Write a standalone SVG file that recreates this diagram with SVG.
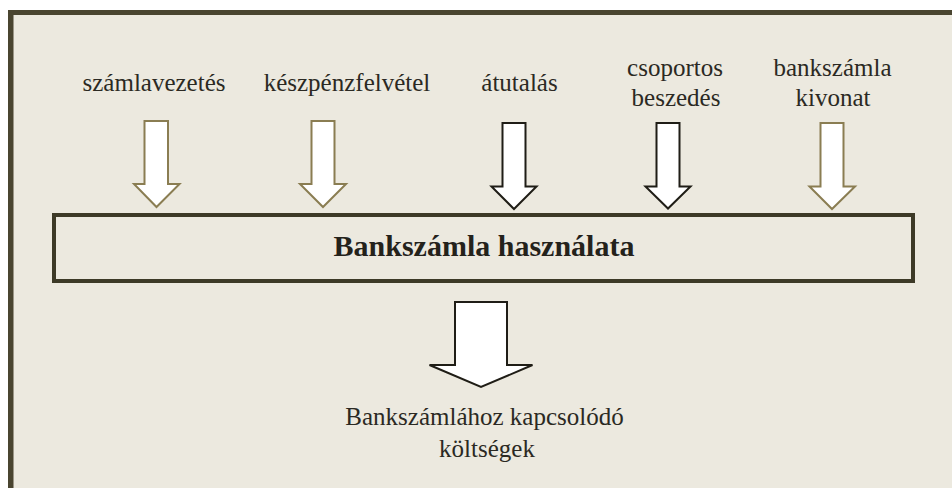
<svg xmlns="http://www.w3.org/2000/svg" width="952" height="488" viewBox="0 0 952 488">
<style>
.lbl{font-family:'Liberation Serif','Times New Roman',serif;font-size:25px;font-weight:normal;fill:#2b2923;text-anchor:middle}
.main{font-family:'Liberation Serif','Times New Roman',serif;font-size:30px;font-weight:bold;fill:#24221b;text-anchor:middle}
.olive{fill:#ffffff;stroke:#8a7d52;stroke-width:2;stroke-linejoin:miter}
.dark{fill:#ffffff;stroke:#1f1d16;stroke-width:2;stroke-linejoin:miter}
</style>
<rect x="0" y="0" width="952" height="488" fill="#ffffff"/>
<g id="frame">
<rect x="8" y="10" width="944" height="478" fill="#ece9df"/>
<rect x="8" y="10" width="944" height="5" fill="#4a4530"/>
<rect x="8" y="10" width="5.5" height="478" fill="#4a4530"/>
</g>
<g id="label-szamlavezetes"><text class="lbl" font-family="Liberation Serif, serif" x="154" y="91">számlavezetés</text></g>
<g id="label-keszpenzfelvetel"><text class="lbl" font-family="Liberation Serif, serif" x="347" y="91">készpénzfelvétel</text></g>
<g id="label-atutalas"><text class="lbl" font-family="Liberation Serif, serif" x="519.5" y="91">átutalás</text></g>
<g id="label-csoportos"><text class="lbl" font-family="Liberation Serif, serif" x="675" y="76">csoportos<tspan x="676" y="106">beszedés</tspan></text></g>
<g id="label-kivonat"><text class="lbl" font-family="Liberation Serif, serif" x="832.5" y="76">bankszámla<tspan x="833" y="106">kivonat</tspan></text></g>
<g id="node-main">
<rect x="54" y="215" width="859" height="66" fill="#ece9df" stroke="#3d3a27" stroke-width="4"/>
<text class="main" x="484" y="256">Bankszámla használata</text>
</g>
<g id="node-result"><text class="lbl" font-family="Liberation Serif, serif" x="484.5" y="425">Bankszámlához kapcsolódó<tspan x="487" y="457">költségek</tspan></text></g>
<g id="connectors">
<path class="olive" d="M144.5,121 H168 V184 H179.5 L156.5,207 L134,184 H144.5 Z"/>
<path class="olive" d="M311.5,121 H334.5 V184 H346 L323,207 L300,184 H311.5 Z"/>
<path class="dark" d="M502.5,123 H525.5 V186.5 H536.5 L514,209 L491.5,186.5 H502.5 Z"/>
<path class="dark" d="M656.5,123 H679.5 V186.5 H690.5 L668,208.5 L645.5,186.5 H656.5 Z"/>
<path class="olive" d="M820.5,123 H843.5 V186.5 H855 L832,209 L809.5,186.5 H820.5 Z"/>
<path class="dark" d="M455,302 H507 V365 H532.5 L481,387 L429.5,365 H455 Z"/>
</g>
</svg>
